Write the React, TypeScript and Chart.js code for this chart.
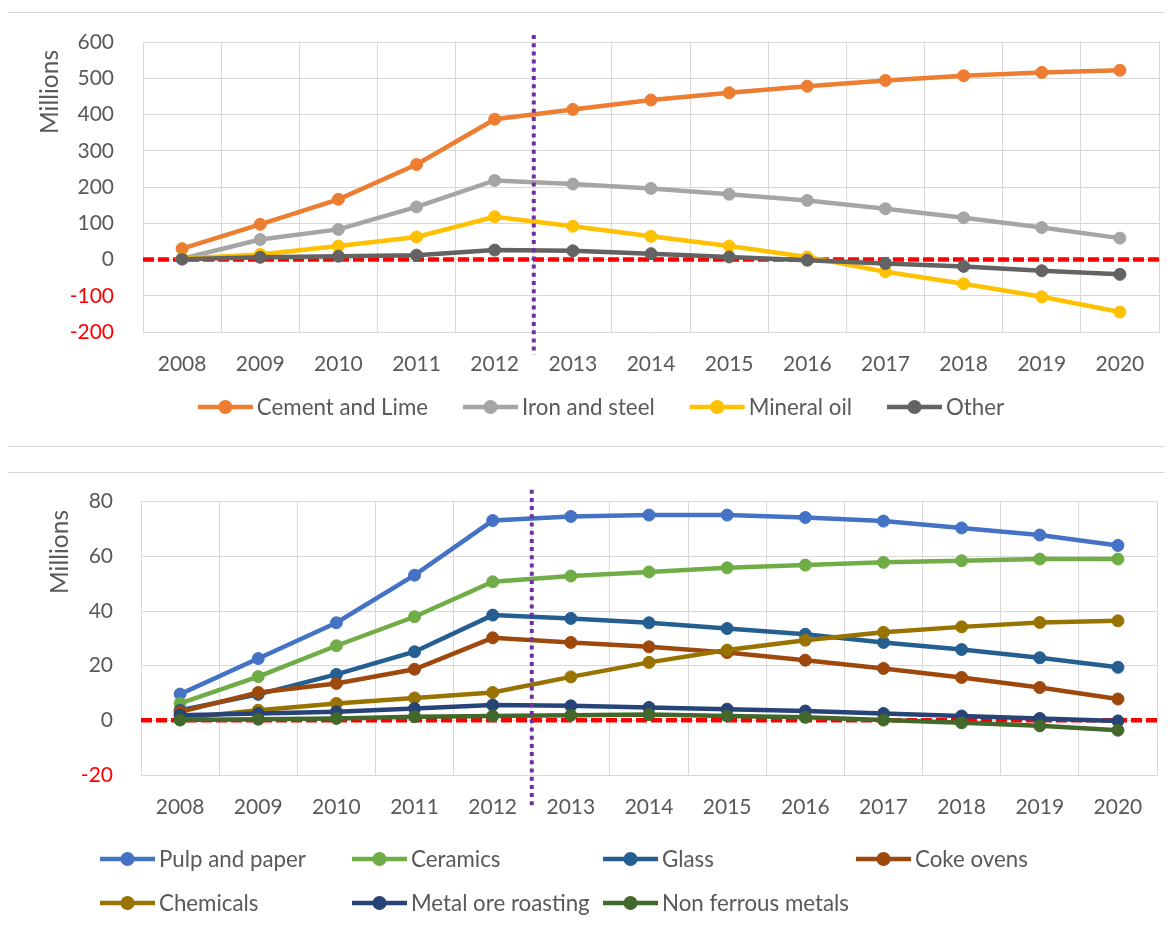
import React, { useEffect, useRef } from "react";
import { Chart, registerables } from "chart.js";

Chart.register(...registerables);

// ---- data ----------------------------------------------------------------

const YEARS = ["2008", "2009", "2010", "2011", "2012", "2013", "2014", "2015", "2016", "2017", "2018", "2019", "2020"];

// Upper panel (millions)
const CEMENT_AND_LIME = [30, 97, 166, 262, 387, 414, 440, 460, 478, 494, 507, 516, 522];
const IRON_AND_STEEL = [2, 55, 83, 145, 218, 208, 196, 180, 163, 140, 115, 88, 59];
const MINERAL_OIL = [3, 14, 37, 62, 118, 92, 64, 37, 7, -34, -67, -103, -145];
const OTHER = [1, 6, 9, 12, 26, 24, 16, 7, -2, -11, -19, -31, -41];

// Lower panel (millions)
const PULP_AND_PAPER = [9.6, 22.6, 35.7, 53.1, 73.1, 74.6, 75.1, 75.1, 74.2, 72.9, 70.4, 67.8, 64.0];
const CERAMICS = [6.2, 16.0, 27.3, 37.9, 50.7, 52.8, 54.3, 55.8, 56.8, 57.8, 58.4, 59.0, 59.0];
const GLASS = [3.7, 9.5, 16.8, 25.1, 38.5, 37.3, 35.7, 33.6, 31.5, 28.5, 25.9, 22.9, 19.4];
const COKE_OVENS = [3.1, 10.2, 13.5, 18.7, 30.2, 28.5, 26.9, 24.8, 22.0, 19.0, 15.7, 12.0, 7.8];
const CHEMICALS = [0.8, 3.7, 6.2, 8.2, 10.2, 15.9, 21.2, 25.7, 29.3, 32.2, 34.2, 35.8, 36.4];
const METAL_ORE_ROASTING = [1.9, 2.5, 3.1, 4.3, 5.6, 5.3, 4.7, 4.1, 3.4, 2.5, 1.6, 0.7, -0.2];
const NON_FERROUS_METALS = [0.1, 0.4, 0.7, 1.3, 1.6, 1.9, 2.1, 1.6, 1.1, 0.1, -0.9, -2.0, -3.6];

// Axis settings
const UPPER_Y = { min: -200, max: 600, step: 100 };
const LOWER_Y = { min: -20, max: 80, step: 20 };
const Y_TITLE = "Millions";
// index between 2012 and 2013 where the dotted divider sits
const DIVIDER_AT = 4.5;

// ---- styling ---------------------------------------------------------------

const FONT = "Lato, 'Open Sans', sans-serif";
const TICK_SIZE = 21;
const LEGEND_SIZE = 22.3;
const TITLE_SIZE = 24.5;
const TEXT_GREY = "#595959";
const GRID_GREY = "#d9d9d9";
const NEG_RED = "#ff0000";
const DIVIDER_PURPLE = "#7030a0";
const LINE_W = 4.5;

type Series = { label: string; data: number[]; color: string };

const UPPER_SERIES: Series[] = [
  { label: "Cement and Lime", data: CEMENT_AND_LIME, color: "#ed7d31" },
  { label: "Iron and steel", data: IRON_AND_STEEL, color: "#a5a5a5" },
  { label: "Mineral oil", data: MINERAL_OIL, color: "#ffc000" },
  { label: "Other", data: OTHER, color: "#636363" },
];

const LOWER_SERIES: Series[] = [
  { label: "Pulp and paper", data: PULP_AND_PAPER, color: "#4472c4" },
  { label: "Ceramics", data: CERAMICS, color: "#70ad47" },
  { label: "Glass", data: GLASS, color: "#255e91" },
  { label: "Coke ovens", data: COKE_OVENS, color: "#9e480e" },
  { label: "Chemicals", data: CHEMICALS, color: "#997300" },
  { label: "Metal ore roasting", data: METAL_ORE_ROASTING, color: "#264478" },
  { label: "Non ferrous metals", data: NON_FERROUS_METALS, color: "#43682b" },
];

type LegendLayout =
  | { mode: "centered"; centerX: number; y: number; spacing: number }
  | { mode: "columns"; cols: number[]; rows: number[] };

type PanelSpec = {
  series: Series[];
  width: number;
  height: number;
  y: { min: number; max: number; step: number };
  padTop: number;
  padRight: number;
  yAxisWidth: number;
  yTickPad: number;
  xAxisHeight: number;
  xTickPad: number;
  titleX: number;
  titleY: number;
  dividerAbove: number;
  dividerBelow: number;
  legend: LegendLayout;
};

const UPPER_PANEL: PanelSpec = {
  series: UPPER_SERIES,
  width: 1165,
  height: 433,
  y: UPPER_Y,
  padTop: 29,
  padRight: 14,
  yAxisWidth: 135,
  yTickPad: 29,
  xAxisHeight: 114,
  xTickPad: 19.5,
  titleX: 49.5,
  titleY: 79,
  dividerAbove: 7,
  dividerBelow: 23,
  legend: { mode: "centered", centerX: 593, y: 394, spacing: 35 },
};

const LOWER_PANEL: PanelSpec = {
  series: LOWER_SERIES,
  width: 1165,
  height: 457,
  y: LOWER_Y,
  padTop: 28.7,
  padRight: 16,
  yAxisWidth: 133,
  yTickPad: 28,
  xAxisHeight: 155,
  xTickPad: 19.5,
  titleX: 60,
  titleY: 79,
  dividerAbove: 12,
  dividerBelow: 33,
  legend: { mode: "columns", cols: [92, 344, 595, 848], rows: [386, 430] },
};

// ---- drawing helpers -------------------------------------------------------

const SWATCH = 55;
const SWATCH_GAP = 4;

function drawLegendItem(ctx: CanvasRenderingContext2D, x: number, y: number, s: Series) {
  ctx.save();
  ctx.strokeStyle = s.color;
  ctx.lineWidth = LINE_W;
  ctx.beginPath();
  ctx.moveTo(x, y);
  ctx.lineTo(x + SWATCH, y);
  ctx.stroke();
  ctx.fillStyle = s.color;
  ctx.beginPath();
  ctx.arc(x + SWATCH / 2, y, 7, 0, Math.PI * 2);
  ctx.fill();
  ctx.fillStyle = TEXT_GREY;
  ctx.font = `${LEGEND_SIZE}px ${FONT}`;
  ctx.textAlign = "left";
  ctx.textBaseline = "middle";
  ctx.fillText(s.label, x + SWATCH + SWATCH_GAP, y + 1);
  ctx.restore();
}

function guidePlugin(spec: PanelSpec) {
  return {
    id: "guides",
    beforeDatasetsDraw(chart: any) {
      // dashed zero line under the series
      const { ctx, chartArea } = chart;
      const y0 = chart.scales.y.getPixelForValue(0);
      ctx.save();
      ctx.strokeStyle = NEG_RED;
      ctx.lineWidth = 4.5;
      ctx.setLineDash([11, 4]);
      ctx.beginPath();
      ctx.moveTo(chartArea.left, y0);
      ctx.lineTo(chartArea.right, y0);
      ctx.stroke();
      ctx.restore();
    },
    afterDatasetsDraw(chart: any) {
      // dotted divider between 2012 and 2013, on top of the series
      const { ctx, chartArea } = chart;
      const x = chart.scales.x.getPixelForValue(DIVIDER_AT);
      ctx.save();
      ctx.strokeStyle = DIVIDER_PURPLE;
      ctx.lineWidth = 4;
      ctx.setLineDash([4, 4.2]);
      ctx.beginPath();
      ctx.moveTo(x, chartArea.top - spec.dividerAbove);
      ctx.lineTo(x, chartArea.bottom + spec.dividerBelow);
      ctx.stroke();
      ctx.restore();
    },
    afterDraw(chart: any) {
      const { ctx } = chart;
      // axis title
      ctx.save();
      ctx.translate(spec.titleX, spec.titleY);
      ctx.rotate(-Math.PI / 2);
      ctx.fillStyle = TEXT_GREY;
      ctx.font = `${TITLE_SIZE}px ${FONT}`;
      ctx.textAlign = "center";
      ctx.textBaseline = "alphabetic";
      ctx.fillText(Y_TITLE, 0, 0);
      ctx.restore();

      // legend
      const lg = spec.legend;
      if (lg.mode === "centered") {
        ctx.save();
        ctx.font = `${LEGEND_SIZE}px ${FONT}`;
        const widths = spec.series.map((s) => SWATCH + SWATCH_GAP + ctx.measureText(s.label).width);
        ctx.restore();
        const total = widths.reduce((a, b) => a + b, 0) + lg.spacing * (widths.length - 1);
        let x = lg.centerX - total / 2;
        spec.series.forEach((s, i) => {
          drawLegendItem(ctx, x, lg.y, s);
          x += widths[i] + lg.spacing;
        });
      } else {
        spec.series.forEach((s, i) => {
          const col = i % lg.cols.length;
          const row = Math.floor(i / lg.cols.length);
          drawLegendItem(ctx, lg.cols[col], lg.rows[row], s);
        });
      }
    },
  };
}

function makeConfig(spec: PanelSpec): any {
  const n = spec.series.length;
  const tickFont = { family: FONT, size: TICK_SIZE };
  return {
    type: "line",
    data: {
      labels: YEARS,
      datasets: spec.series.map((s, i) => ({
        label: s.label,
        data: s.data,
        borderColor: s.color,
        backgroundColor: s.color,
        borderWidth: LINE_W,
        pointRadius: 6,
        pointHoverRadius: 6,
        pointBorderWidth: 1,
        pointBackgroundColor: s.color,
        pointBorderColor: s.color,
        tension: 0,
        fill: false,
        // later series are painted above earlier ones
        order: n - 1 - i,
      })),
    },
    options: {
      responsive: false,
      animation: false,
      events: [],
      layout: {
        autoPadding: false,
        padding: { top: spec.padTop, right: spec.padRight, bottom: 0, left: 0 },
      },
      plugins: {
        legend: { display: false },
        tooltip: { enabled: false },
        title: { display: false },
      },
      scales: {
        x: {
          type: "category",
          offset: true,
          grid: { offset: true, color: GRID_GREY, lineWidth: 1, drawTicks: false },
          border: { color: GRID_GREY, width: 1 },
          ticks: {
            color: TEXT_GREY,
            font: tickFont,
            padding: spec.xTickPad,
            maxRotation: 0,
            autoSkip: false,
          },
          afterFit: (s: any) => {
            s.height = spec.xAxisHeight;
            s.paddingLeft = 0;
            s.paddingRight = 0;
          },
        },
        y: {
          min: spec.y.min,
          max: spec.y.max,
          grid: { color: GRID_GREY, lineWidth: 1, drawTicks: false },
          border: { color: GRID_GREY, width: 1 },
          ticks: {
            stepSize: spec.y.step,
            padding: spec.yTickPad,
            font: tickFont,
            color: (c: any) => (c.tick && c.tick.value < 0 ? NEG_RED : TEXT_GREY),
          },
          afterFit: (s: any) => {
            // the plot frame is fixed by the layout padding alone
            s.width = spec.yAxisWidth;
            s.paddingTop = 0;
            s.paddingBottom = 0;
          },
        },
      },
    },
    plugins: [guidePlugin(spec)],
  };
}

function Panel({ spec, style }: { spec: PanelSpec; style: React.CSSProperties }) {
  const ref = useRef<HTMLCanvasElement>(null);
  useEffect(() => {
    let chart: Chart | null = null;
    let cancelled = false;
    const build = () => {
      if (cancelled || !ref.current) return;
      chart = new Chart(ref.current, makeConfig(spec));
    };
    const fonts = (document as any).fonts;
    if (fonts && fonts.load) {
      fonts.load(`${TICK_SIZE}px Lato`).then(build, build);
    } else {
      build();
    }
    return () => {
      cancelled = true;
      if (chart) chart.destroy();
    };
  }, [spec]);
  return (
    <div style={style}>
      <canvas
        ref={ref}
        width={spec.width}
        height={spec.height}
        style={{ display: "block", width: spec.width, height: spec.height }}
      />
    </div>
  );
}

const frame: React.CSSProperties = {
  position: "absolute",
  left: -1,
  width: 1165,
  background: "#fff",
  borderTop: `1px solid ${GRID_GREY}`,
  borderLeft: `1px solid ${GRID_GREY}`,
};

export default function App() {
  return (
    <div style={{ position: "relative", height: 914 }}>
      <Panel
        spec={UPPER_PANEL}
        style={{ ...frame, top: 4, height: 433, borderBottom: `1px solid ${GRID_GREY}` }}
      />
      <Panel spec={LOWER_PANEL} style={{ ...frame, top: 464, height: 457 }} />
    </div>
  );
}
